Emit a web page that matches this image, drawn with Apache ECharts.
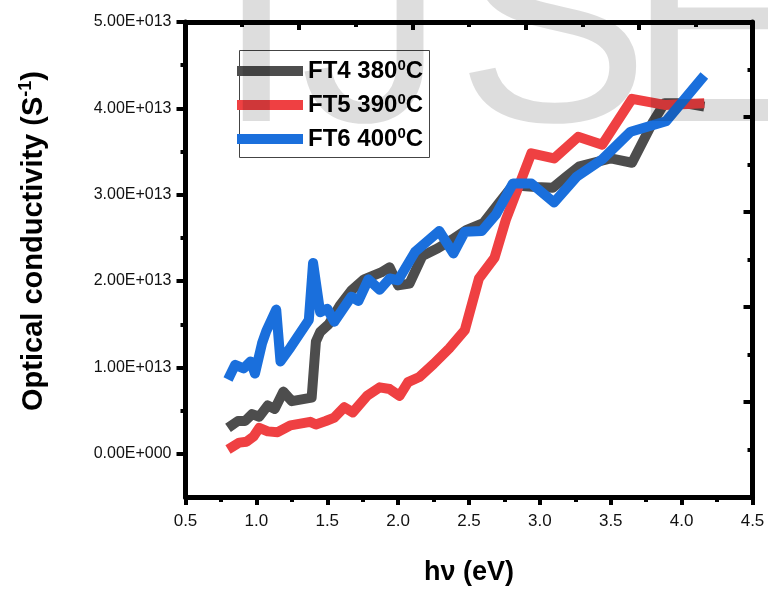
<!DOCTYPE html>
<html>
<head>
<meta charset="utf-8">
<script src="https://cdn.jsdelivr.net/npm/echarts@6/dist/echarts.min.js"></script>
<style>
  html, body { margin: 0; padding: 0; background: #fff; }
  #main { width: 768px; height: 591px; }
</style>
</head>
<body>
<div id="main"></div>
<script>
// values, y in units of 1E+013 S^-1
var ft4X = [0.80, 0.87, 0.92, 0.97, 1.02, 1.08, 1.13, 1.19, 1.25, 1.39, 1.42, 1.45, 1.51, 1.59, 1.67, 1.76, 1.82, 1.88, 1.94, 2.00, 2.08, 2.17, 2.28, 2.38, 2.48, 2.60, 2.70, 2.81, 2.97, 3.09, 3.18, 3.28, 3.50, 3.65, 3.80, 3.88, 4.02, 4.16];
var ft4Y = [0.30, 0.38, 0.38, 0.46, 0.43, 0.56, 0.52, 0.72, 0.61, 0.65, 1.30, 1.41, 1.50, 1.72, 1.89, 2.02, 2.06, 2.10, 2.16, 1.95, 1.97, 2.29, 2.38, 2.48, 2.59, 2.67, 2.88, 3.11, 3.09, 3.08, 3.20, 3.33, 3.42, 3.37, 3.85, 4.06, 4.06, 4.02];

var ft5X = [0.80, 0.88, 0.93, 0.98, 1.02, 1.08, 1.15, 1.24, 1.38, 1.42, 1.49, 1.55, 1.62, 1.68, 1.78, 1.87, 1.94, 2.01, 2.07, 2.15, 2.25, 2.36, 2.47, 2.57, 2.68, 2.76, 2.94, 3.10, 3.27, 3.44, 3.65, 3.88, 4.16];
var ft5Y = [0.05, 0.13, 0.14, 0.20, 0.30, 0.26, 0.25, 0.33, 0.37, 0.34, 0.38, 0.42, 0.54, 0.48, 0.67, 0.77, 0.75, 0.67, 0.83, 0.89, 1.04, 1.22, 1.43, 2.03, 2.27, 2.71, 3.48, 3.42, 3.67, 3.58, 4.11, 4.04, 4.06];

var ft6X = [0.80, 0.85, 0.91, 0.96, 0.99, 1.04, 1.07, 1.14, 1.17, 1.24, 1.37, 1.40, 1.45, 1.50, 1.55, 1.67, 1.72, 1.79, 1.87, 1.94, 2.00, 2.12, 2.29, 2.39, 2.47, 2.59, 2.69, 2.81, 2.94, 3.10, 3.26, 3.44, 3.64, 3.89, 4.16];
var ft6Y = [0.86, 1.03, 0.99, 1.07, 0.93, 1.28, 1.42, 1.67, 1.07, 1.23, 1.55, 2.21, 1.64, 1.68, 1.53, 1.82, 1.77, 2.02, 1.90, 2.03, 2.01, 2.34, 2.58, 2.32, 2.57, 2.58, 2.77, 3.13, 3.13, 2.91, 3.21, 3.41, 3.73, 3.85, 4.38];

var names = ['FT4', 'FT5', 'FT6'];
var temps = ['380', '390', '400'];
var colors = ['#4d4d4d', '#ef4042', '#1a6fdc'];
var yMajor = [0, 1, 2, 3, 4, 5];
var yMinor = [0.5, 1.5, 2.5, 3.5, 4.5];

var font = '"Liberation Sans", Arial, sans-serif';

function zip(xs, ys) {
  return xs.map(function (x, i) { return [x, ys[i]]; });
}

// watermark letters, placed one by one
var wmLetters = ['I', 'J', 'S', 'E'];
var wmLeft = [216, 300, 456, 627];

var myChart = echarts.init(document.getElementById('main'));

var option = {
  animation: false,
  grid: { left: 185.5, right: 15.5, top: 22, bottom: 90 },
  legend: {
    orient: 'vertical',
    left: 232,
    top: 53,
    itemWidth: 66,
    itemHeight: 10,
    itemGap: 9,
    icon: 'rect',
    data: names,
    formatter: function (name) {
      var i = names.indexOf(name);
      return '{t|' + name + ' ' + temps[i] + '}{s|0}{t|C}';
    },
    textStyle: {
      rich: {
        t: { fontFamily: font, fontWeight: 'bold', fontSize: 24, color: '#000', lineHeight: 26 },
        s: { fontFamily: font, fontWeight: 'bold', fontSize: 15, color: '#000', lineHeight: 26, verticalAlign: 'top', padding: [0, 0, 10, 0] }
      }
    }
  },
  xAxis: [
    {
      type: 'value',
      position: 'bottom',
      min: 0.5,
      max: 4.5,
      interval: 0.5,
      name: 'h\u03bd (eV)',
      nameLocation: 'middle',
      nameGap: 62,
      nameTextStyle: { fontFamily: font, fontWeight: 'bold', fontSize: 27, color: '#000' },
      axisLine: { show: true, onZero: false, lineStyle: { color: '#000', width: 5 } },
      axisTick: { show: true, length: 8, lineStyle: { color: '#000', width: 4 } },
      minorTick: { show: true, splitNumber: 2, length: 5, lineStyle: { color: '#000', width: 4 } },
      splitLine: { show: false },
      axisLabel: {
        margin: 16,
        fontFamily: font, fontSize: 17, color: '#111',
        formatter: function (v) { return v.toFixed(1); }
      }
    },
    {
      // top frame, its own tick spacing
      type: 'value',
      position: 'top',
      min: 0,
      max: 5,
      interval: 1,
      axisLine: { show: true, onZero: false, lineStyle: { color: '#000', width: 5 } },
      axisTick: { show: true, inside: true, length: 8, lineStyle: { color: '#000', width: 4 } },
      minorTick: { show: true, splitNumber: 2, length: 5, lineStyle: { color: '#000', width: 4 } },
      splitLine: { show: false },
      axisLabel: { show: false }
    }
  ],
  yAxis: [
    {
      type: 'value',
      position: 'left',
      min: -0.5,
      max: 5,
      axisLine: { show: true, onZero: false, lineStyle: { color: '#000', width: 5 } },
      axisTick: { show: true, length: 9, customValues: yMajor, lineStyle: { color: '#000', width: 4 } },
      splitLine: { show: false },
      axisLabel: {
        margin: 14,
        customValues: yMajor,
        fontFamily: font, fontSize: 16, color: '#111',
        formatter: function (v) { return v.toFixed(2) + (v === 0 ? 'E+000' : 'E+013'); }
      }
    },
    {
      // minor ticks of the left axis
      type: 'value',
      position: 'left',
      min: -0.5,
      max: 5,
      axisLine: { show: false, onZero: false },
      axisTick: { show: true, length: 5, customValues: yMinor, lineStyle: { color: '#000', width: 4 } },
      splitLine: { show: false },
      axisLabel: { show: false }
    },
    {
      // right frame, its own tick spacing
      type: 'value',
      position: 'right',
      min: 0,
      max: 5,
      interval: 1,
      axisLine: { show: true, onZero: false, lineStyle: { color: '#000', width: 5 } },
      axisTick: { show: true, inside: true, length: 9, lineStyle: { color: '#000', width: 4 } },
      minorTick: { show: true, splitNumber: 2, length: 5, lineStyle: { color: '#000', width: 4 } },
      splitLine: { show: false },
      axisLabel: { show: false }
    }
  ],
  series: [
    { name: names[0], type: 'line', data: zip(ft4X, ft4Y) },
    { name: names[1], type: 'line', data: zip(ft5X, ft5Y) },
    { name: names[2], type: 'line', data: zip(ft6X, ft6Y) }
  ].map(function (s, i) {
    s.showSymbol = false;
    s.symbol = 'none';
    s.color = colors[i];
    s.lineStyle = { color: colors[i], width: 10, join: 'round' };
    s.z = 2 + i;
    return s;
  }),
  graphic: [
    {
      type: 'rect',
      silent: true,
      shape: { x: 239.5, y: 50.5, width: 190, height: 107 },
      style: { fill: 'none', stroke: '#444', lineWidth: 1 }
    },
    {
      type: 'text',
      silent: true,
      x: 34,
      y: 241,
      rotation: Math.PI / 2,
      style: {
        text: '{a|Optical conductivity (S}{b|-1}{a|)}',
        align: 'center',
        verticalAlign: 'middle',
        rich: {
          a: { fontFamily: font, fontWeight: 'bold', fontSize: 29, fill: '#000', lineHeight: 34 },
          b: { fontFamily: font, fontWeight: 'bold', fontSize: 18, fill: '#000', lineHeight: 34, verticalAlign: 'top', padding: [0, 0, 12, 0] }
        }
      }
    }
  ].concat(wmLetters.map(function (ch, i) {
    return {
      type: 'text',
      silent: true,
      z: 100,
      x: wmLeft[i],
      y: 41,
      style: {
        text: ch,
        fontFamily: font,
        fontSize: 290,
        fill: 'rgba(0,0,0,0.135)',
        align: 'left',
        verticalAlign: 'middle'
      }
    };
  }))
};

myChart.setOption(option);
</script>
</body>
</html>
